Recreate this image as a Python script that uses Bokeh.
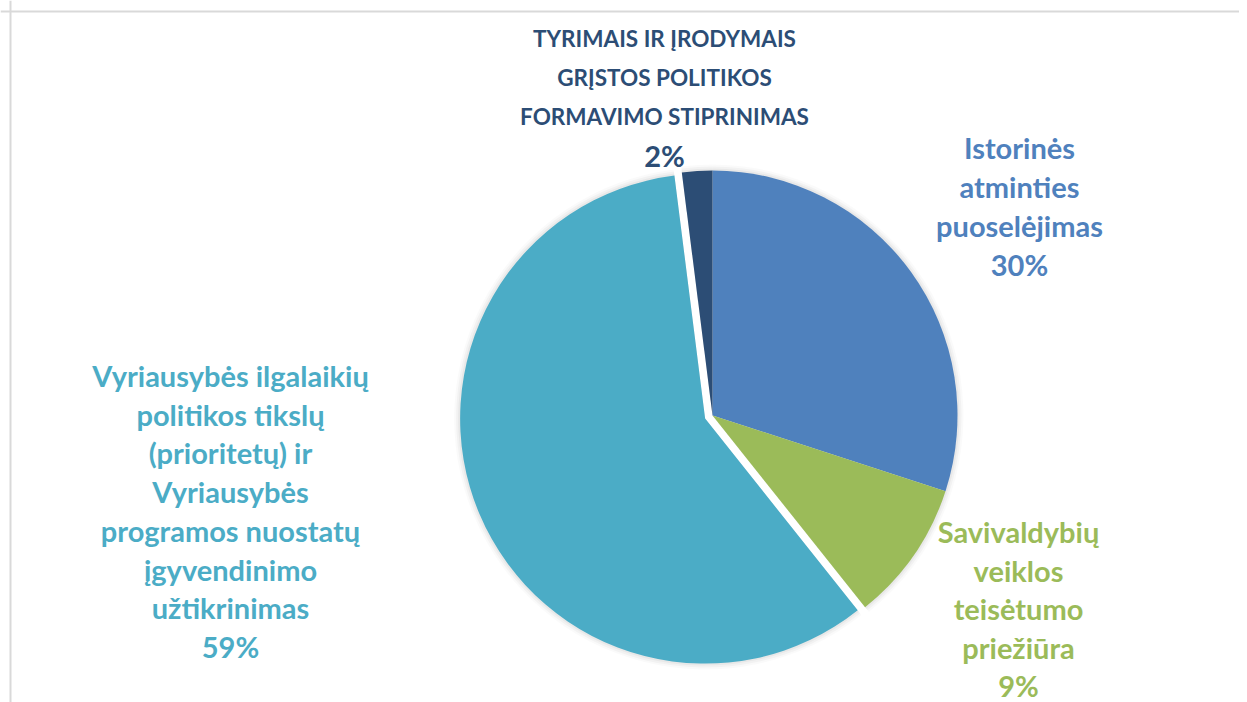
import math
from bokeh.plotting import figure
from bokeh.models import ColumnDataSource, Span
from bokeh.core.properties import value
from bokeh.embed import file_html
from bokeh.resources import INLINE

# ---- data ----
categories = [
    "Istorinės atminties puoselėjimas",
    "Savivaldybių veiklos teisėtumo priežiūra",
    "Vyriausybės ilgalaikių politikos tikslų (prioritetų) ir Vyriausybės programos nuostatų įgyvendinimo užtikrinimas",
    "Tyrimais ir įrodymais grįstos politikos formavimo stiprinimas",
]
values = [30.0, 9.3, 58.7, 2.0]
colors = ["#4F81BD", "#9BBB59", "#4BACC6", "#2C4D75"]
label_lines = [
    ["Istorinės", "atminties", "puoselėjimas"],
    ["Savivaldybių", "veiklos", "teisėtumo", "priežiūra"],
    ["Vyriausybės ilgalaikių", "politikos tikslų", "(prioritetų) ir", "Vyriausybės",
     "programos nuostatų", "įgyvendinimo", "užtikrinimas"],
    ["TYRIMAIS IR ĮRODYMAIS", "GRĮSTOS POLITIKOS", "FORMAVIMO STIPRINIMAS"],
]
explode = [0, 0, 8, 0]

# ---- layout (pixel units) ----
W, H = 1239, 702
def sx(x):
    return x
def sy(y):
    return H - y

cx, cy, R = sx(712), sy(415), 245
# label anchors: (center x, first line y, line step)
label_pos = [(1019, 147, 39), (1018, 531, 38.6), (230, 375, 38.7), (664, 38, 39)]

p = figure(width=W, height=H, x_range=(0, W), y_range=(0, H),
           output_backend="svg", toolbar_location=None, min_border=0)
p.axis.visible = False
p.grid.visible = False
p.outline_line_color = None
p.background_fill_color = "white"

# border lines
p.add_layout(Span(location=sy(11), dimension="width", line_color="#d9d9d9", line_width=2))
p.add_layout(Span(location=sx(10), dimension="height", line_color="#d9d9d9", line_width=2))

total = sum(values)
starts, ends, xs, ys = [], [], [], []
a = math.pi / 2
for v, e in zip(values, explode):
    span = 2 * math.pi * v / total
    s, en = a, a - span
    mid = (s + en) / 2
    starts.append(s)
    ends.append(en)
    xs.append(cx + e * math.cos(mid))
    ys.append(cy + e * math.sin(mid))
    a = en

# soft shadow
for r, al in [(R + 6, 0.02), (R + 4, 0.03), (R + 2, 0.04)]:
    p.wedge(x=xs, y=ys, radius=r, start_angle=starts, end_angle=ends,
            direction="clock", fill_color="#000000", fill_alpha=al, line_color=None)

src = ColumnDataSource(dict(x=xs, y=ys, start=starts, end=ends, color=colors, cat=categories))
p.wedge(x="x", y="y", radius=R, start_angle="start", end_angle="end", direction="clock",
        fill_color="color", line_color=None, source=src)

font = value("Lato")
for i, lines in enumerate(label_lines):
    x0, y0, step = label_pos[i]
    pct = f"{round(values[i] / total * 100)}%"
    all_lines = lines + [pct]
    tx, ty, tt, ts = [], [], [], []
    for j, t in enumerate(all_lines):
        tx.append(sx(x0))
        ty.append(sy(y0 + j * step))
        tt.append(t)
        if i == 3 and j < len(lines):
            ts.append("22.5px")
        else:
            ts.append("29px")
    p.text(x=tx, y=ty, text=tt, text_font=font, text_font_style="bold",
           text_font_size=ts, text_color=colors[i], text_align="center",
           text_baseline="middle")

open("out.html", "w").write(file_html(p, INLINE))
